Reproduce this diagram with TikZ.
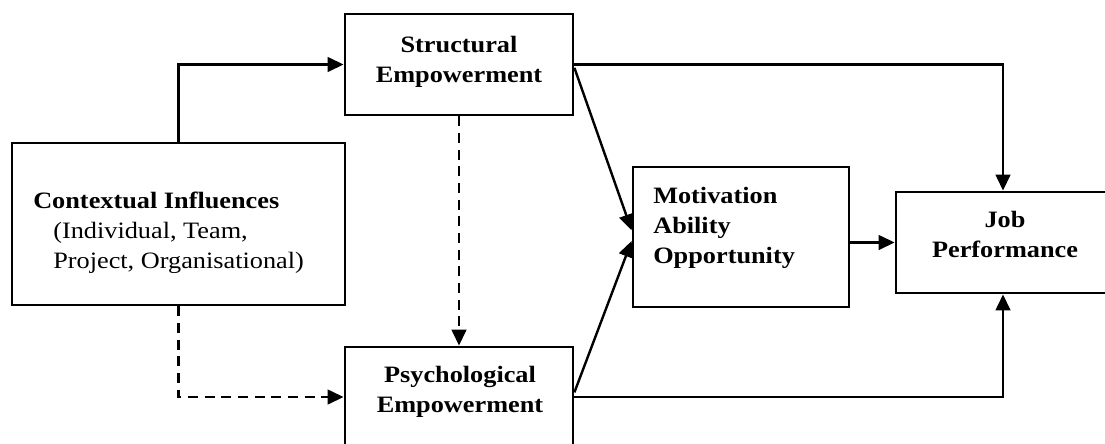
\documentclass[tikz,border=0pt]{standalone}
\usepackage{fontspec}
\setmainfont{Liberation Serif}[FakeStretch=1.12]
\usetikzlibrary{arrows.meta,fit}
\begin{document}
\begin{tikzpicture}[x=0.75pt,y=-0.75pt,
  box/.style={draw, line width=2.1pt, inner sep=0pt},
  conn/.style={line width=1.8pt},
  arr/.style={conn,-{Triangle[length=12pt,width=11pt]}},
  darr/.style={arr, dash pattern=on 7.5pt off 5pt},
  txt/.style={inner sep=0pt, anchor=base, font=\fontsize{17.6}{22.5}\selectfont}]
\clip (0,0) rectangle (1105,443);
\fill[white] (0,0) rectangle (1105,443);

% boxes
\node[box, fit={(12,143) (345,305)}] (ctx) {};
\node[box, fit={(345,14) (573,115)}] (str) {};
\node[box, fit={(345,347) (573,447)}] (psy) {};
\node[box, fit={(633,167) (849,307)}] (mao) {};
\node[box, fit={(896,192) (1110,293)}] (job) {};

% box texts
\node[txt, anchor=base west] (ctxT) at (33,208)
  {\parbox[t]{260pt}{\raggedright\textbf{Contextual Influences}\\
   \hspace*{15pt}(Individual, Team,\\
   \hspace*{15pt}Project, Organisational)}};
\node[txt] (strT) at (459,52)
  {\parbox[t]{200pt}{\centering\bfseries Structural\\Empowerment}};
\node[txt] (psyT) at (460,382)
  {\parbox[t]{200pt}{\centering\bfseries Psychological\\Empowerment}};
\node[txt, anchor=base west] (maoT) at (653,203)
  {\parbox[t]{150pt}{\raggedright\bfseries Motivation\\Ability\\Opportunity}};
\node[txt] (jobT) at (1005,227)
  {\parbox[t]{160pt}{\centering\bfseries Job\\Performance}};

% connectors
\draw[arr] (ctx.north) |- (str.west);
\draw[darr] (ctx.south) |- (psy.west);
\draw[darr] (str.south) -- (psy.north);
\draw[arr] ([yshift=-2.5pt]str.east) -- ([yshift=5pt]mao.west);
\draw[arr] ([yshift=3.5pt]psy.east) -- ([yshift=-3pt]mao.west);
\draw[arr] (str.east) -| (job.north);
\draw[arr] (psy.east) -| (job.south);
\draw[arr] (job.west -| mao.east) -- (job.west);
\end{tikzpicture}
\end{document}
